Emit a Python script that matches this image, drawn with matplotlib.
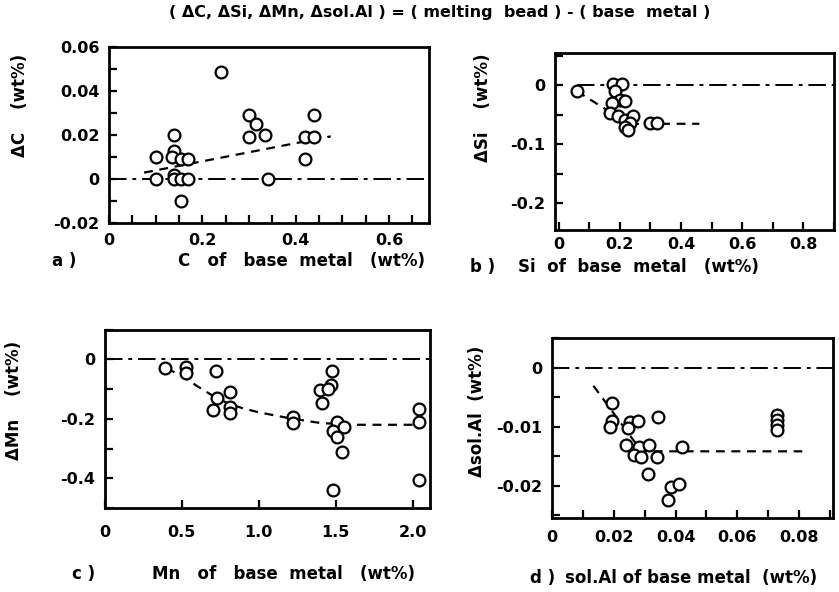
import matplotlib
matplotlib.use("Agg")
import matplotlib.pyplot as plt
from matplotlib.ticker import MultipleLocator

plt.rcParams['font.family'] = ['DejaVu Sans']
plt.rcParams['font.weight'] = 'bold'

# ---------------- data ----------------
title = "( ΔC, ΔSi, ΔMn, Δsol.Al ) = ( melting  bead ) - ( base  metal )"

# a) carbon
c_x = [0.10, 0.10, 0.14, 0.14, 0.135, 0.14, 0.14, 0.155, 0.17, 0.155, 0.17, 0.155,
       0.24, 0.30, 0.315, 0.30, 0.335, 0.34, 0.42, 0.44, 0.42, 0.44]
c_y = [0.010, 0.0, 0.020, 0.013, 0.010, 0.002, 0.0, 0.009, 0.009, 0.0, 0.0, -0.010,
       0.049, 0.029, 0.025, 0.019, 0.020, 0.0, 0.019, 0.019, 0.009, 0.029]
c_fit_x = [0.075, 0.475]
c_fit_y = [0.003, 0.0195]
c_xticks = [0, 0.2, 0.4, 0.6]
c_xticklabels = ["0", "0.2", "0.4", "0.6"]
c_yticks = [-0.02, 0, 0.02, 0.04, 0.06]
c_yticklabels = ["-0.02", "0", "0.02", "0.04", "0.06"]

# b) silicon
si_x = [0.06, 0.178, 0.206, 0.184, 0.20, 0.173, 0.216, 0.167, 0.195, 0.216, 0.244,
        0.233, 0.216, 0.227, 0.298, 0.32]
si_y = [-0.010, 0.003, 0.002, -0.010, -0.024, -0.030, -0.027, -0.047, -0.052, -0.058,
        -0.052, -0.064, -0.070, -0.075, -0.064, -0.064]
si_fit_x = [0.06, 0.23, 0.46]
si_fit_y = [-0.010, -0.065, -0.065]
si_zero_x = [0.06, 0.9]
si_xticks = [0, 0.2, 0.4, 0.6, 0.8]
si_xticklabels = ["0", "0.2", "0.4", "0.6", "0.8"]
si_yticks = [-0.2, -0.1, 0]
si_yticklabels = ["-0.2", "-0.1", "0"]

# c) manganese
mn_x = [0.39, 0.525, 0.525, 0.72, 0.705, 0.73, 0.81, 0.81, 0.81, 1.22, 1.22,
        1.475, 1.40, 1.47, 1.45, 1.41, 1.51, 1.48, 1.51, 1.555, 1.54, 1.48,
        2.04, 2.04, 2.04]
mn_y = [-0.028, -0.025, -0.045, -0.040, -0.170, -0.130, -0.110, -0.160, -0.180,
        -0.195, -0.215, -0.040, -0.104, -0.087, -0.100, -0.145, -0.210, -0.240,
        -0.262, -0.226, -0.310, -0.441, -0.168, -0.212, -0.405]
mn_fit_x = [0.40, 0.50, 0.60, 0.70, 0.80, 0.90, 1.00, 1.20, 1.40, 1.60, 2.05]
mn_fit_y = [-0.030, -0.055, -0.090, -0.122, -0.148, -0.165, -0.178, -0.198, -0.214,
            -0.220, -0.220]
mn_xticks = [0, 0.5, 1.0, 1.5, 2.0]
mn_xticklabels = ["0", "0.5", "1.0", "1.5", "2.0"]
mn_yticks = [-0.4, -0.2, 0]
mn_yticklabels = ["-0.4", "-0.2", "0"]

# d) sol.Al
al_x = [0.0193, 0.0193, 0.0188, 0.0251, 0.0278, 0.0246, 0.0342, 0.0241, 0.0283,
        0.0313, 0.0265, 0.0289, 0.034, 0.042, 0.031, 0.0384, 0.0411, 0.0374,
        0.0728, 0.0728, 0.0728, 0.0728]
al_y = [-0.0060, -0.0090, -0.0100, -0.0093, -0.0091, -0.0102, -0.0083, -0.0132,
        -0.0134, -0.0132, -0.0149, -0.0151, -0.0151, -0.0134, -0.0181, -0.0203,
        -0.0198, -0.0224, -0.0080, -0.0089, -0.0097, -0.0106]
al_fit_x = [0.0134, 0.029, 0.081]
al_fit_y = [-0.0031, -0.0142, -0.0142]
al_xticks = [0, 0.02, 0.04, 0.06, 0.08]
al_xticklabels = ["0", "0.02", "0.04", "0.06", "0.08"]
al_yticks = [-0.02, -0.01, 0]
al_yticklabels = ["-0.02", "-0.01", "0"]

# ---------------- figure ----------------
fig = plt.figure(figsize=(8.39, 5.92), dpi=100)

FS = 11.5
LFS = 12
mk = dict(marker='o', markersize=8.5, markerfacecolor='white', markeredgecolor='black',
          markeredgewidth=1.6, linestyle='none', zorder=3)
dash = dict(color='black', linestyle=(0, (4, 3)), linewidth=1.6, zorder=2)
dashdot = dict(color='black', linestyle=(0, (9, 3, 2, 3)), linewidth=1.4, zorder=1)


def style(ax, xlim, ylim, xt, xtl, yt, ytl, xminor, yminor, xpad=8):
    ax.set_xlim(*xlim)
    ax.set_ylim(*ylim)
    ax.set_xticks(xt)
    ax.set_xticklabels(xtl, fontsize=FS, fontweight='bold')
    ax.set_yticks(yt)
    ax.set_yticklabels(ytl, fontsize=FS, fontweight='bold')
    ax.xaxis.set_minor_locator(MultipleLocator(xminor))
    ax.yaxis.set_minor_locator(MultipleLocator(yminor))
    ax.tick_params(which='both', direction='in', width=1.6, top=False, right=False)
    ax.tick_params(which='major', length=6)
    ax.tick_params(which='minor', length=6)
    ax.tick_params(axis='x', pad=xpad)
    ax.tick_params(axis='y', pad=7)
    for s in ax.spines.values():
        s.set_linewidth(2.0)


# a
axa = fig.add_axes([0.130, 0.623, 0.381, 0.297])
axa.plot([0, 0.685], [0, 0], **dashdot)
axa.plot(c_fit_x, c_fit_y, **dash)
axa.plot(c_x, c_y, **mk)
style(axa, (0, 0.685), (-0.02, 0.06), c_xticks, c_xticklabels, c_yticks, c_yticklabels,
      0.05, 0.01, xpad=7)

# b
axb = fig.add_axes([0.6615, 0.6115, 0.3325, 0.299])
axb.plot(si_zero_x, [0, 0], **dashdot)
axb.plot(si_fit_x, si_fit_y, **dash)
axb.plot(si_x, si_y, **mk)
style(axb, (-0.012, 0.9), (-0.245, 0.055), si_xticks, si_xticklabels, si_yticks,
      si_yticklabels, 0.1, 0.05, xpad=5)

# c
axc = fig.add_axes([0.125, 0.142, 0.387, 0.301])
axc.plot([0, 2.11], [0, 0], **dashdot)
axc.plot(mn_fit_x, mn_fit_y, **dash)
axc.plot(mn_x, mn_y, **mk)
style(axc, (0, 2.11), (-0.5, 0.1), mn_xticks, mn_xticklabels, mn_yticks, mn_yticklabels,
      0.5, 0.1, xpad=12)

# d
axd = fig.add_axes([0.658, 0.125, 0.335, 0.304])
axd.plot([0, 0.091], [0, 0], **dashdot)
axd.plot(al_fit_x, al_fit_y, **dash)
axd.plot(al_x, al_y, **mk)
style(axd, (0.001, 0.091), (-0.0255, 0.005), al_xticks, al_xticklabels, al_yticks,
      al_yticklabels, 0.01, 0.005, xpad=9)

# texts
fig.text(440 / 839, 1 - 12 / 592, title, ha='center', va='center', fontsize=11.5,
         fontweight='bold')

def ftxt(x, y, s, **kw):
    fig.text(x / 839, 1 - y / 592, s, fontsize=LFS, fontweight='bold', va='center', **kw)

ftxt(52, 261, "a )")
ftxt(178, 261, "C   of   base  metal   (wt%)")
ftxt(470, 267, "b )")
ftxt(518, 267, "Si  of  base  metal   (wt%)")
ftxt(72, 574, "c )")
ftxt(152, 574, "Mn   of   base  metal   (wt%)")
ftxt(530, 578, "d )")
ftxt(565, 578, "sol.Al of base metal  (wt%)")

def ylab(x, y, s):
    fig.text(x / 839, 1 - y / 592, s, fontsize=LFS, fontweight='bold', rotation=90,
             ha='center', va='center')

ylab(20, 105, "ΔC    (wt%)")
ylab(483, 108, "ΔSi    (wt%)")
ylab(14, 400, "ΔMn    (wt%)")
ylab(477, 411, "Δsol.Al  (wt%)")

fig.savefig("out.png", dpi=100)
